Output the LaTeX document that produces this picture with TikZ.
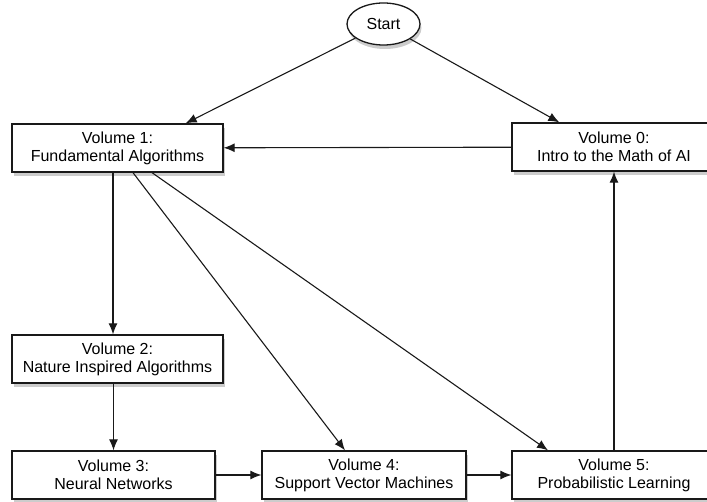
\documentclass[tikz,border=0pt]{standalone}
\usepackage{fontspec}
\setmainfont{Liberation Sans}
\usetikzlibrary{positioning, shapes.geometric, shadows, arrows.meta}

\begin{document}
\begin{tikzpicture}[x=1pt, y=1pt,
		volbox/.style={draw=black!90, line width=1.3pt, fill=white, minimum height=48pt,
			inner sep=0pt, align=center, font=\fontsize{16}{18}\selectfont,
			drop shadow={shadow xshift=1.5pt, shadow yshift=-4pt, opacity=0.4}},
		startnode/.style={ellipse, draw=black!90, line width=1.3pt, fill=white,
			minimum width=73pt, minimum height=42pt, inner sep=0pt, font=\fontsize{16}{18}\selectfont,
			drop shadow={shadow xshift=1.5pt, shadow yshift=-4pt, opacity=0.4}},
		link/.style={-{Latex[length=11pt, width=9pt]}, draw=black!90, line width=1.1pt}]
		
		\useasboundingbox (0,0) rectangle (707,501);
		\clip (0,0) rectangle (707,501);
		
		% Nodes
		\node[startnode] (start) at (383.5,477) {Start};
		
		\node[volbox, minimum width=211pt] (vol1) at (117.5,353) {Volume 1:\\Fundamental Algorithms};
		\node[volbox, minimum width=204pt] (vol0) at (614,354) {Volume 0:\\Intro to the Math of AI};
		\node[volbox, minimum width=211pt] (vol2) at (117.5,142) {Volume 2:\\Nature Inspired Algorithms};
		
		\node[volbox, minimum width=203pt] (vol3) at (113.5,26) {Volume 3:\\Neural Networks};
		\node[volbox, minimum width=204pt] (vol4) at (364,26) {Volume 4:\\Support Vector Machines};
		\node[volbox, minimum width=204pt] (vol5) at (614,26) {Volume 5:\\Probabilistic Learning};
		
		% Arrows
		\draw[link] (start) -- ([xshift=-38pt]vol1.north east);
		\draw[link] (start) -- ([xshift=48pt]vol0.north west);
		\draw[link] (vol0) -- (vol1);
		
		\draw[link] ([xshift=-4.5pt]vol1.south) -- ([xshift=-4.5pt]vol2.north);
		\draw[link] ([xshift=15.5pt]vol1.south) -- ([xshift=-19pt]vol4.north);
		\draw[link] ([xshift=34.5pt]vol1.south) -- ([xshift=-66pt]vol5.north);
		
		\draw[link] (vol2.south -| vol3) -- (vol3);
		\draw[link] (vol3) -- (vol4);
		\draw[link] (vol4) -- (vol5);
		\draw[link] (vol5) -- (vol0);
		
	\end{tikzpicture}
\end{document}
